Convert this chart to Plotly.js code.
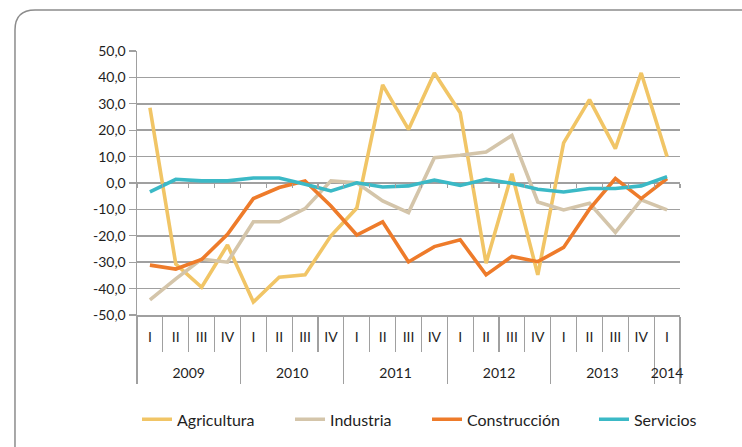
<!DOCTYPE html>
<html>
<head>
<meta charset="utf-8">
<script src="https://cdn.plot.ly/plotly-3.0.1.min.js"></script>
<style>
  html, body { margin: 0; padding: 0; background: #fff; }
  #chart { width: 742px; height: 447px; }
</style>
</head>
<body>
<div id="chart"></div>
<script>
// Quarters 2009 I .. 2014 I
const years = ['2009','2009','2009','2009','2010','2010','2010','2010','2011','2011','2011','2011',
               '2012','2012','2012','2012','2013','2013','2013','2013','2014'];
const quarters = ['I','II','III','IV','I','II','III','IV','I','II','III','IV',
                  'I','II','III','IV','I','II','III','IV','I'];

const agricultura  = [28.5, -30.7, -39.5, -23.5, -45.1, -35.7, -34.8, -20.0, -9.5, 37.2, 20.3,
                      41.7, 26.6, -30.4, 3.5, -34.8, 15.2, 31.6, 13.0, 41.7, 10.0];
const industria    = [-44.3, -36.3, -28.8, -30.0, -14.7, -14.7, -9.7, 0.8, 0.1, -6.8, -11.2,
                      9.6, 10.5, 11.7, 18.0, -7.2, -10.2, -7.7, -18.7, -6.4, -10.2];
const construccion = [-31.1, -32.6, -29.0, -19.4, -5.9, -1.7, 0.8, -8.7, -19.7, -14.7, -29.9,
                      -24.1, -21.5, -34.8, -27.8, -29.8, -24.4, -9.9, 1.7, -5.9, 1.7];
const servicios    = [-3.4, 1.4, 0.8, 0.8, 1.9, 1.9, -0.5, -3.0, 0.1, -1.5, -1.1,
                      1.1, -0.9, 1.4, -0.1, -2.4, -3.4, -2.1, -2.1, -1.1, 2.4];

const yTickVals = [-50, -40, -30, -20, -10, 0, 10, 20, 30, 40, 50];
const yTickText = ['-50,0','-40,0','-30,0','-20,0','-10,0','0,0','10,0','20,0','30,0','40,0','50,0'];

const FONT = 'Lato, "Open Sans", sans-serif';
const GRID = '#a0a0a0';
const TEXT = '#1e1e1e';

// positions derived from the category lists
const idx = quarters.map((_, i) => i);
const qBounds = [-0.5].concat(idx.map(i => i + 0.5));
const yearLabels = [...new Set(years)];
const yearCenters = yearLabels.map(y => {
    const ii = idx.filter(i => years[i] === y);
    return (ii[0] + ii[ii.length - 1]) / 2;
});
const yearBounds = [-0.5].concat(idx.filter(i => i > 0 && years[i] !== years[i - 1]).map(i => i - 0.5),
                                 [idx.length - 0.5]);
const xRange = [-0.5, idx.length - 0.5];

// every x axis shares the same range, each one carries one series
function series(name, values, color, legendId, xa) {
    return {
        x: idx,
        y: values,
        xaxis: xa,
        type: 'scatter',
        mode: 'lines',
        name: name,
        legend: legendId,
        line: {color: color, width: 3.6},
        hoverinfo: 'y+name'
    };
}

const traces = [
    series('Agricultura', agricultura, '#f1c566', 'legend', 'x'),
    series('Industria', industria, '#d4c5aa', 'legend2', 'x2'),
    series('Construcción', construccion, '#ee7b2a', 'legend3', 'x3'),
    series('Servicios', servicios, '#3bb9c6', 'legend4', 'x4')
];

function legendAt(x) {
    return {
        orientation: 'h',
        x: x, xanchor: 'left',
        y: -0.39, yanchor: 'middle',
        bgcolor: 'rgba(0,0,0,0)',
        font: {family: FONT, size: 16, color: TEXT}
    };
}

function overlayAxis(extra) {
    return Object.assign({
        overlaying: 'x',
        anchor: 'y',
        range: xRange,
        showgrid: false,
        showline: false,
        zeroline: false,
        showticklabels: false,
        ticks: '',
        tickcolor: GRID,
        tickwidth: 1.2,
        fixedrange: true
    }, extra);
}

const layout = {
    width: 742,
    height: 447,
    margin: {l: 137, r: 62, t: 51, b: 131},
    paper_bgcolor: '#fff',
    plot_bgcolor: '#fff',
    font: {family: FONT, size: 14, color: TEXT},
    showlegend: true,
    legend: legendAt(0.0),
    legend2: legendAt(0.2818),
    legend3: legendAt(0.5341),
    legend4: legendAt(0.8416),
    // bottom line: year separators (long) and quarter separators (minor)
    xaxis: {
        range: xRange,
        showgrid: false,
        zeroline: false,
        showline: true,
        linecolor: GRID,
        linewidth: 1.5,
        ticks: 'outside',
        tickvals: yearBounds,
        ticklen: 67,
        tickcolor: GRID,
        tickwidth: 1.2,
        showticklabels: false,
        minor: {
            ticks: 'outside',
            tickvals: qBounds,
            ticklen: 35,
            tickcolor: GRID,
            tickwidth: 1.2,
            showgrid: false
        },
        fixedrange: true
    },
    // quarter labels
    xaxis2: overlayAxis({
        tickvals: idx,
        ticktext: quarters,
        showticklabels: true,
        tickfont: {family: FONT, size: 14, color: TEXT},
        ticklabelstandoff: 12
    }),
    // year labels
    xaxis3: overlayAxis({
        tickvals: yearCenters,
        ticktext: yearLabels,
        showticklabels: true,
        tickfont: {family: FONT, size: 14, color: TEXT},
        ticklabelstandoff: 48
    }),
    // small ticks on the zero line
    xaxis4: overlayAxis({
        anchor: 'free',
        position: 0.5,
        ticks: 'outside',
        tickvals: qBounds,
        ticklen: 4
    }),
    yaxis: {
        range: [-50, 50],
        tickvals: yTickVals,
        ticktext: yTickText,
        showgrid: true,
        gridcolor: GRID,
        gridwidth: 1.5,
        zeroline: false,
        showline: true,
        linecolor: GRID,
        linewidth: 1.5,
        ticks: 'outside',
        ticklen: 7,
        tickcolor: GRID,
        tickwidth: 1.2,
        tickfont: {family: FONT, size: 14, color: TEXT},
        fixedrange: true
    },
    shapes: [{
        type: 'path',
        xref: 'paper', yref: 'paper',
        path: 'M -0.2247,-0.7 L -0.2247,1.0793 Q -0.2247,1.1549 -0.1878,1.1549 L 1.3,1.1549',
        line: {color: '#8c8c8c', width: 1.5},
        layer: 'below'
    }]
};

Plotly.newPlot('chart', traces, layout, {displayModeBar: false, staticPlot: true});
</script>
</body>
</html>
